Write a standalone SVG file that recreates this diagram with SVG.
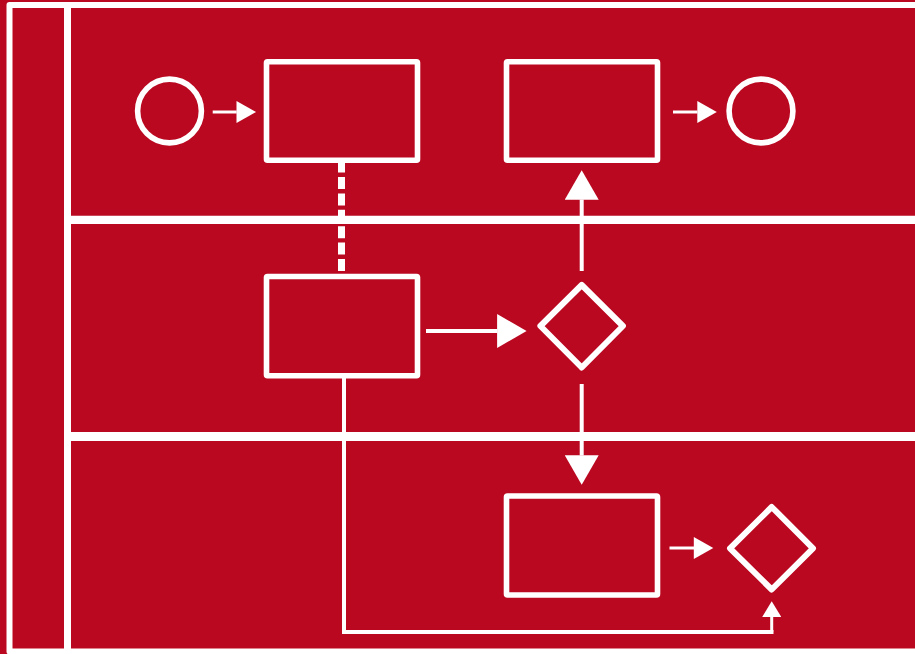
<svg xmlns="http://www.w3.org/2000/svg" width="915" height="654" viewBox="0 0 915 654">
<style>
.s{fill:none;stroke:#fff;stroke-linejoin:round}
.n{fill:none;stroke:#fff;stroke-width:5.6;stroke-linejoin:round}
.big{stroke-width:4;marker-end:url(#big)}
.small{stroke-width:3;marker-end:url(#small)}
</style>
<defs>
<marker id="big" markerUnits="userSpaceOnUse" markerWidth="31" markerHeight="34" viewBox="0 0 30 34" refX="0.2" refY="17" orient="auto"><path d="M0 0L29.5 17L0 34Z" fill="#fff"/></marker>
<marker id="small" markerUnits="userSpaceOnUse" markerWidth="21" markerHeight="22" viewBox="0 0 20 22" refX="0.2" refY="11" orient="auto"><path d="M0 0L19.5 11L0 22Z" fill="#fff"/></marker>
<marker id="tiny" markerUnits="userSpaceOnUse" markerWidth="17" markerHeight="19" viewBox="0 0 16 19" refX="0.2" refY="9.5" orient="auto"><path d="M0 0L15.7 9.5L0 19Z" fill="#fff"/></marker>
</defs>
<rect id="background" width="915" height="654" fill="#ba0821"/>
<g id="pool">
<path class="s" d="M920 5H9.5V651.5H920" style="stroke-width:6"/>
<path class="s" style="stroke-width:7" d="M67.5 5V651"/>
<path class="s" style="stroke-width:8.3" d="M64 219.8H920"/>
<path class="s" style="stroke-width:9.2" d="M64 436.5H920"/>
</g>
<g id="connectors">
<path class="s small" d="M212.7 112H236.7"/>
<path class="s small" d="M673 112H697.5"/>
<path class="s small" d="M669.5 548H694"/>
<path class="s" style="stroke-width:7" stroke-dasharray="12 4.4" d="M341.5 160.6V272"/>
<path class="s big" d="M426 331H497.3"/>
<path class="s big" d="M581.7 271V199.5"/>
<path class="s big" d="M581.7 384V455.5"/>
<path class="s" style="stroke-width:4;stroke-linejoin:miter" d="M344 378V632H773.5"/>
<path class="s" style="stroke-width:3;marker-end:url(#tiny)" d="M771.7 632V616.7"/>
</g>
<g id="start-event"><circle class="n" cx="169.5" cy="111" r="31.9"/></g>
<g id="end-event"><circle class="n" cx="761" cy="111" r="31.9"/></g>
<g id="task-1"><rect class="n" x="266.5" y="61.7" width="151" height="98.6" rx="1"/></g>
<g id="task-2"><rect class="n" x="506.5" y="61.7" width="151" height="98.6" rx="1"/></g>
<g id="task-3"><rect class="n" x="266.5" y="276.5" width="151" height="99.2" rx="1"/></g>
<g id="task-4"><rect class="n" x="506.5" y="496" width="151" height="99" rx="1"/></g>
<g id="gateway-1"><path class="n" style="stroke-width:6" d="M581.7 285L622.9 326L581.7 367.5L540.4 326Z"/></g>
<g id="gateway-2"><path class="n" style="stroke-width:6" d="M771.7 507L813 548.3L771.7 589.5L730 548.3Z"/></g>
</svg>
